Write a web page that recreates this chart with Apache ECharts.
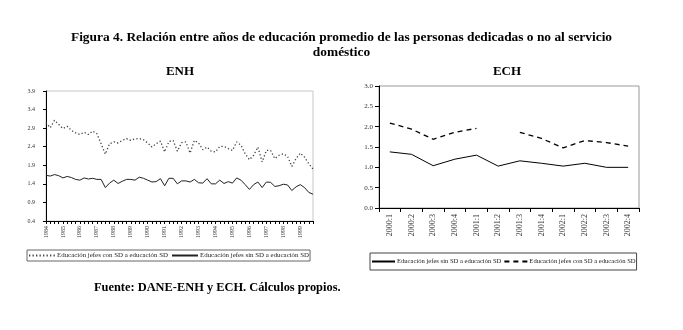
<!DOCTYPE html>
<html>
<head>
<meta charset="utf-8">
<script src="https://cdn.jsdelivr.net/npm/echarts@6/dist/echarts.min.js"></script>
<style>
html,body{margin:0;padding:0;background:#fff;}
#c{width:683px;height:330px;}
</style>
</head>
<body>
<div id="c"></div>
<script>
// ENH (left) — quarterly, 1984 Q1 .. 1999 Q4
var enhYears = ['1984','1985','1986','1987','1988','1989','1990','1991','1992','1993','1994','1995','1996','1997','1998','1999'];
var enhQuarters = ['1','2','3','4'];
var enhConSD = [3.05,2.91,3.11,3.00,2.89,2.95,2.84,2.77,2.73,2.79,2.73,2.82,2.75,2.48,2.20,2.48,
                2.53,2.50,2.57,2.62,2.57,2.61,2.62,2.59,2.50,2.39,2.48,2.55,2.26,2.54,2.57,2.28,
                2.51,2.53,2.23,2.57,2.50,2.32,2.39,2.28,2.26,2.41,2.41,2.35,2.30,2.53,2.44,2.21,
                2.05,2.17,2.39,1.99,2.30,2.30,2.08,2.17,2.21,2.14,1.87,2.08,2.23,2.12,1.94,1.80];
var enhSinSD = [1.63,1.61,1.65,1.62,1.56,1.60,1.57,1.52,1.50,1.56,1.53,1.55,1.52,1.52,1.30,1.42,
                1.50,1.41,1.47,1.52,1.52,1.50,1.58,1.55,1.50,1.45,1.46,1.54,1.35,1.55,1.55,1.40,
                1.48,1.48,1.45,1.52,1.43,1.42,1.54,1.40,1.40,1.50,1.41,1.46,1.42,1.56,1.50,1.38,
                1.25,1.38,1.45,1.30,1.45,1.44,1.33,1.35,1.39,1.37,1.22,1.32,1.38,1.30,1.17,1.12];

// ECH (right)
var echCategories = ['2000:1','2000:2','2000:3','2000:4','2001:1','2001:2','2001:3','2001:4','2002:1','2002:2','2002:3','2002:4'];
var echSinSD = [1.38,1.32,1.04,1.20,1.30,1.03,1.16,1.10,1.03,1.10,1.00,1.00];
var echConSD = [2.09,1.94,1.69,1.86,1.96,null,1.86,1.71,1.48,1.66,1.61,1.52];

var nameCon = 'Educación jefes con SD a educación SD';
var nameSin = 'Educación jefes sin SD a educación SD';
var nameCon2 = nameCon + '\u200b';
var nameSin2 = nameSin + '\u200b';

var enhCategories = [];
enhYears.forEach(function(y){ enhQuarters.forEach(function(q){ enhCategories.push(y + '-' + q); }); });

var serif = 'Liberation Serif';
var chart = echarts.init(document.getElementById('c'), null, {renderer:'canvas'});

chart.setOption({
  animation:false,
  backgroundColor:'#fff',
  textStyle:{fontFamily:serif},
  title:[
    {text:'Figura 4. Relación entre años de educación promedio de las personas dedicadas o no al servicio\ndoméstico',
     left:'center', top:25,
     textStyle:{fontFamily:serif,fontWeight:'bold',fontSize:13.4,color:'#000',lineHeight:15}},
    {text:'ENH', left:175, top:60, textAlign:'center',
     textStyle:{fontFamily:serif,fontWeight:'bold',fontSize:13,color:'#000'}},
    {text:'ECH', left:502, top:60, textAlign:'center',
     textStyle:{fontFamily:serif,fontWeight:'bold',fontSize:13,color:'#000'}},
    {text:'Fuente: DANE-ENH y ECH. Cálculos propios.', left:89, top:277,
     textStyle:{fontFamily:serif,fontWeight:'bold',fontSize:12.4,color:'#000'}}
  ],
  legend:[
    {data:[nameCon,nameSin], left:27, top:250,
     orient:'horizontal', itemGap:3, itemWidth:26, itemHeight:6,
     borderColor:'#666', borderWidth:1, padding:[2,1,2,1],
     itemStyle:{opacity:0},
     textStyle:{fontFamily:serif,fontSize:6.9,color:'#222',padding:[0,0,0,-3]}
    },
    {data:[nameSin2,nameCon2], left:370, top:253,
     orient:'horizontal', itemGap:2, itemWidth:23, itemHeight:6,
     borderColor:'#444', borderWidth:1, padding:[5,1,5,1],
     itemStyle:{opacity:0},
     textStyle:{fontFamily:serif,fontSize:6.6,color:'#222',padding:[0,0,0,-3]}
    }
  ],
  grid:[
    {left:46, top:91, width:267, height:130, show:true, borderColor:'#c8c8c8', borderWidth:1, containLabel:false},
    {left:379, top:86, width:260, height:122, show:true, borderColor:'#999', borderWidth:1, containLabel:false}
  ],
  xAxis:[
    {type:'category', gridIndex:0, data:enhCategories, boundaryGap:false,
     axisLine:{lineStyle:{color:'#000',width:1}},
     axisTick:{show:true, interval:0, length:3, lineStyle:{color:'#000'}},
     axisLabel:{interval:3, rotate:90, fontSize:6, color:'#333', margin:5, fontFamily:serif,
       formatter:function(v){ return v.split('-')[0]; }}
    },
    {type:'category', gridIndex:1, data:echCategories, boundaryGap:true,
     axisLine:{lineStyle:{color:'#000',width:1}},
     axisTick:{show:true, length:4, lineStyle:{color:'#000'}},
     axisLabel:{interval:0, rotate:90, fontSize:8, color:'#333', margin:6, fontFamily:serif}
    }
  ],
  yAxis:[
    {type:'value', gridIndex:0, min:0.4, max:3.9, interval:0.5,
     axisLine:{show:true, lineStyle:{color:'#000',width:1}},
     axisTick:{show:true, length:3, lineStyle:{color:'#000'}},
     splitLine:{show:false},
     axisLabel:{fontSize:6, color:'#333', margin:11, fontFamily:serif,
       formatter:function(v){ return v.toFixed(1); }}
    },
    {type:'value', gridIndex:1, min:0, max:3, interval:0.5,
     axisLine:{show:true, lineStyle:{color:'#000',width:1}},
     axisTick:{show:true, length:4, lineStyle:{color:'#000'}},
     splitLine:{show:false},
     axisLabel:{fontSize:7, color:'#333', margin:6, fontFamily:serif,
       formatter:function(v){ return v.toFixed(1); }}
    }
  ],
  series:[
    {name:nameCon, type:'line', xAxisIndex:0, yAxisIndex:0, data:enhConSD,
     symbol:'none', lineStyle:{color:'#444', width:1.3, type:[1.3,2.2]}, itemStyle:{color:'#444'}},
    {name:nameSin, type:'line', xAxisIndex:0, yAxisIndex:0, data:enhSinSD,
     symbol:'none', lineStyle:{color:'#222', width:1}, itemStyle:{color:'#222'}},
    {name:nameSin2, type:'line', xAxisIndex:1, yAxisIndex:1, data:echSinSD,
     symbol:'none', lineStyle:{color:'#000', width:1}, itemStyle:{color:'#000'}},
    {name:nameCon2, type:'line', xAxisIndex:1, yAxisIndex:1, data:echConSD,
     symbol:'none', connectNulls:false, lineStyle:{color:'#000', width:1.3, type:[5,4]}, itemStyle:{color:'#000'}}
  ]
});
</script>
</body>
</html>
